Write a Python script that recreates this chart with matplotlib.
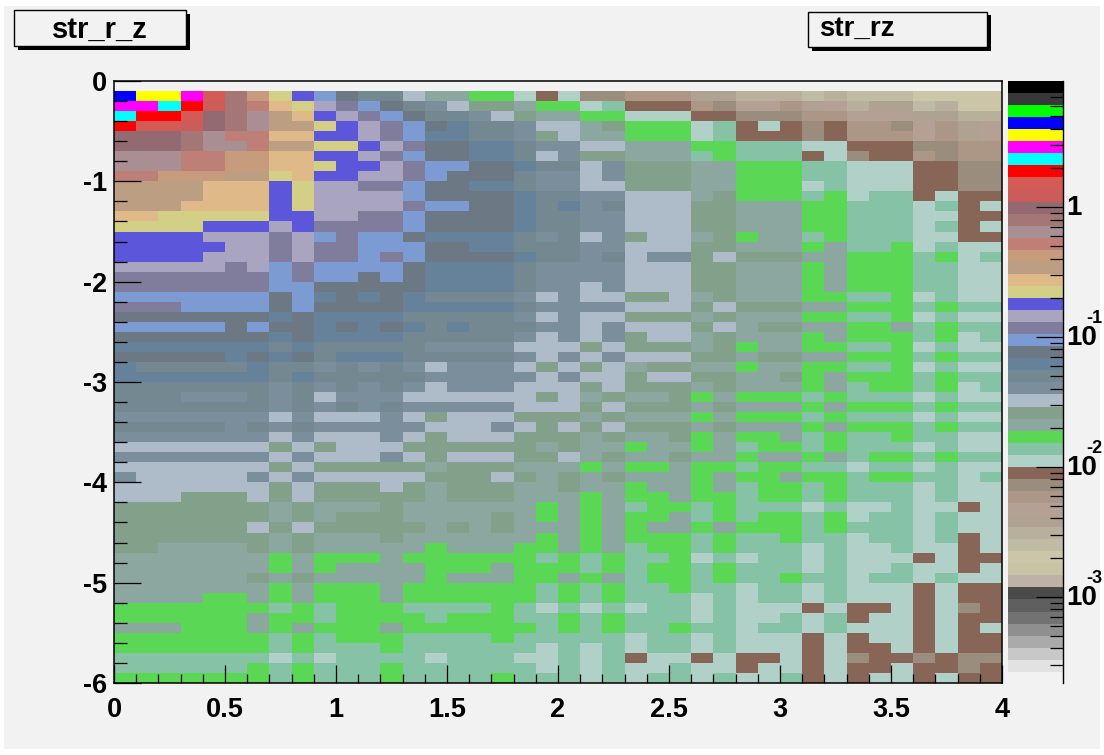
import numpy as np
import matplotlib
matplotlib.use('Agg')
import matplotlib.pyplot as plt
from matplotlib.colors import ListedColormap, BoundaryNorm
from matplotlib.patches import Rectangle
from matplotlib.ticker import FixedLocator, NullFormatter, FixedFormatter

plt.rcParams['font.family'] = ['Liberation Sans', 'DejaVu Sans']
plt.rcParams['font.weight'] = 'bold'
plt.rcParams['axes.unicode_minus'] = False

W, H = 1104, 755

# palette, top of the colour bar first
palette = ['#000000', '#383838', '#00FF00', '#0000FF', '#FFFF00', '#FF00FF', '#00FFFF', '#FF0000',
           '#D45B55', '#CC5C5A', '#946A72', '#A57676', '#A98F93', '#BE7F76', '#C79C7C', '#BC9F82',
           '#DFB987', '#D3CF87', '#5C56DB', '#A9A4C0', '#7F7D9B', '#7C9BD3', '#6C7985', '#66829A',
           '#748891', '#7A8F9B', '#AEBCC9', '#82A08A', '#8CA6A0', '#5AD755', '#86C2A6', '#B0D0C8',
           '#886657', '#9B8D7E', '#AC9686', '#B5A096', '#B0A293', '#B8B09C', '#BFBBA5', '#CCC6A8',
           '#C9C3A5', '#BFB1A5', '#4A4A4A', '#5F5F5F', '#727272', '#8F8F8F', '#AAAAAA', '#C8C8C8',
           '#E2E2E2']

# palette index per cell, rows from z=0 downwards, -1 = empty
levels = [
    [-1] * 40,
    [3,4,4,5,8,11,14,17,18,21,22,24,24,26,28,28,29,29,31,32,31,33,33,34,34,34,36,36,37,37,37,38,37,38,38,38,39,39,39,39],
    [5,5,6,7,9,11,13,16,17,19,20,21,22,24,25,26,27,27,28,29,29,31,30,32,32,32,34,33,35,35,34,36,35,37,36,36,38,37,39,39],
    [6,7,7,8,10,11,12,15,16,18,19,20,21,22,24,24,25,26,27,28,28,29,29,31,31,31,32,32,33,33,33,34,34,35,35,35,36,36,37,37],
    [7,8,8,9,10,11,12,15,15,17,18,19,20,21,22,23,24,24,25,26,26,28,27,29,29,29,31,30,32,31,32,33,32,34,34,33,35,34,36,35],
    [10,10,10,11,12,13,13,16,16,18,18,19,20,21,23,23,24,24,25,27,26,28,28,29,29,29,31,30,32,32,32,33,32,34,34,34,35,34,36,35],
    [10,10,10,11,12,12,13,15,15,17,17,18,19,20,22,22,23,23,24,25,25,26,26,28,28,28,29,29,30,30,30,31,31,32,32,32,33,33,34,34],
    [12,12,12,13,13,14,14,16,16,18,18,19,20,21,22,22,23,23,24,26,25,27,27,28,28,28,30,29,30,30,30,32,31,33,32,32,34,33,34,34],
    [12,12,12,13,13,14,14,16,16,17,18,18,19,20,21,21,22,22,23,24,24,26,25,27,27,27,28,28,29,29,29,30,30,31,31,31,32,32,33,33],
    [13,13,14,14,14,15,15,17,16,18,18,19,19,20,21,22,22,22,24,25,25,26,25,27,27,27,28,28,29,29,29,30,30,31,31,31,32,32,33,33],
    [15,15,15,15,16,16,16,18,17,19,19,20,20,21,22,22,23,23,24,25,25,26,26,27,27,27,28,28,29,29,29,31,30,31,31,31,32,32,33,33],
    [15,15,15,15,16,16,16,18,17,19,19,19,19,21,22,22,22,22,23,24,24,25,25,26,26,26,28,27,29,29,29,30,29,31,30,30,32,31,32,32],
    [15,15,15,16,16,16,16,18,17,19,19,19,19,20,21,21,22,22,23,24,23,25,24,26,26,26,27,27,28,28,28,29,29,30,30,30,31,30,32,31],
    [16,16,17,17,17,17,17,18,18,19,19,20,20,21,22,22,22,22,23,24,24,25,25,26,26,26,27,27,28,28,28,29,29,30,30,30,31,31,32,32],
    [17,17,17,17,18,18,18,19,18,20,20,20,20,21,22,22,22,22,23,24,24,25,25,26,26,26,27,27,28,28,28,29,29,30,30,30,31,30,32,31],
    [18,18,18,18,19,19,19,20,19,21,20,21,21,22,23,23,23,23,24,25,24,26,25,27,26,26,28,27,29,28,28,30,29,30,30,30,31,31,32,32],
    [18,18,18,18,18,19,19,20,19,20,20,21,21,21,22,22,23,23,24,24,24,25,25,26,26,26,27,27,28,28,28,29,28,30,30,29,31,30,31,31],
    [18,18,18,18,19,19,19,20,19,20,20,21,20,21,22,22,22,22,23,24,24,25,24,26,25,25,27,26,27,27,27,28,28,29,29,29,30,29,31,30],
    [19,19,19,19,19,20,19,21,20,21,21,21,21,22,23,23,23,23,24,25,25,25,25,26,26,26,27,27,28,28,28,29,28,29,29,29,30,30,31,31],
    [20,20,20,20,20,20,20,21,20,21,21,22,21,22,23,23,23,23,24,25,25,25,25,26,26,26,27,27,28,28,28,29,28,29,29,29,30,30,31,31],
    [20,20,20,20,20,20,20,21,21,22,22,22,22,22,23,23,23,23,24,25,25,26,25,26,26,26,27,27,28,28,28,29,28,29,29,29,30,30,31,31],
    [21,21,21,21,21,21,21,22,21,23,22,23,22,23,24,24,24,24,25,26,25,26,26,27,27,26,28,27,28,28,28,29,29,30,30,29,31,30,31,31],
    [20,20,20,21,21,21,21,22,21,22,22,22,22,23,23,23,23,23,24,25,25,25,25,26,26,26,27,26,27,27,27,28,28,29,29,29,30,29,30,30],
    [22,22,22,22,22,22,22,23,22,23,23,23,23,24,24,24,24,24,25,26,25,26,26,27,27,27,28,27,28,28,28,29,29,30,30,29,31,30,31,31],
    [21,21,21,21,21,22,21,22,22,23,22,23,22,23,24,23,24,24,24,25,25,26,25,26,26,26,27,26,28,27,27,28,28,29,29,28,30,29,30,30],
    [22,22,22,22,22,22,22,23,22,23,23,23,23,24,24,24,24,24,25,26,25,26,25,27,26,26,28,27,28,28,28,29,28,29,29,29,30,29,31,30],
    [23,23,23,23,23,23,23,24,23,24,24,24,24,24,25,25,25,25,26,26,26,27,26,27,27,27,28,27,29,28,28,29,29,30,30,29,31,30,31,31],
    [22,22,22,22,22,23,22,23,22,24,23,23,23,24,24,24,24,24,25,26,25,26,25,26,26,26,27,27,28,27,27,28,28,29,29,29,30,29,30,30],
    [23,24,24,24,24,24,23,24,24,25,24,25,24,25,26,25,25,25,26,27,26,27,26,28,27,27,28,28,29,28,28,29,29,30,30,29,31,30,31,31],
    [23,23,23,23,23,23,23,24,23,24,24,24,24,24,25,25,25,25,25,26,25,26,26,27,26,26,27,27,28,28,27,29,28,29,29,29,30,29,30,30],
    [24,24,24,24,24,24,24,25,24,25,24,25,24,25,26,25,25,25,26,26,26,27,26,27,27,27,28,27,28,28,28,29,28,30,29,29,30,29,31,30],
    [24,24,24,25,25,25,24,25,24,26,25,25,25,26,26,26,26,26,26,27,26,28,27,28,28,27,29,28,29,29,29,30,29,30,30,30,31,30,31,31],
    [24,24,24,24,24,24,24,25,24,25,24,25,24,25,25,25,25,25,26,26,26,27,26,27,27,27,28,27,28,28,28,29,28,29,29,29,30,29,30,30],
    [25,25,25,25,25,25,25,26,25,26,26,26,25,26,27,26,26,26,27,27,27,28,27,28,28,28,29,28,29,29,29,30,29,30,30,30,31,30,31,31],
    [24,24,24,24,24,25,24,25,24,25,25,25,25,25,26,26,26,25,26,27,26,27,26,27,27,27,28,27,28,28,28,29,28,29,29,29,30,29,30,30],
    [25,25,25,25,25,25,25,26,25,26,26,26,25,26,27,26,26,26,27,27,27,28,27,28,28,27,29,28,29,29,28,30,29,30,30,29,30,30,31,31],
    [26,26,26,26,26,26,26,27,26,27,26,26,26,27,27,27,27,27,27,28,27,28,28,29,28,28,29,28,30,29,29,30,29,30,30,30,31,30,31,31],
    [25,25,25,25,25,25,25,26,25,26,26,26,25,26,27,26,26,26,27,27,26,28,27,28,28,27,28,28,29,28,28,29,28,30,29,29,30,29,30,30],
    [26,26,26,26,26,26,26,27,26,27,27,27,27,27,28,27,27,27,28,28,28,29,28,29,29,28,29,29,30,29,29,30,30,31,30,30,31,30,31,31],
    [25,26,26,26,26,26,25,26,25,26,26,26,26,26,27,27,27,26,27,28,27,28,27,28,28,28,29,28,29,29,28,29,29,30,29,29,30,30,31,30],
    [26,26,26,26,26,26,26,27,26,27,27,27,26,27,28,27,27,27,28,28,27,28,28,29,28,28,29,28,30,29,29,30,29,30,30,30,31,30,31,31],
    [26,26,26,27,27,27,26,27,26,27,27,27,27,27,28,27,27,27,28,28,28,29,28,29,29,28,29,29,30,29,29,30,29,30,30,30,31,30,31,31],
    [27,27,27,27,27,27,27,28,27,28,28,28,27,28,28,28,28,28,28,29,28,29,28,30,29,29,30,29,30,30,30,31,30,31,31,30,31,31,32,31],
    [27,27,27,27,27,27,27,28,27,28,27,27,27,28,28,28,28,27,28,29,28,29,28,29,29,28,30,29,30,29,29,30,29,31,30,30,31,30,31,31],
    [27,27,27,27,27,27,26,27,26,27,27,27,27,27,28,27,28,27,28,28,28,29,28,29,28,28,29,28,29,29,29,30,29,30,30,30,31,30,31,31],
    [27,27,27,27,27,27,27,28,27,28,28,28,27,28,28,28,28,28,28,29,28,29,28,29,29,29,30,29,30,30,29,30,30,31,30,30,31,30,32,31],
    [27,27,28,28,28,28,27,28,27,28,28,28,28,28,29,28,28,28,29,29,28,29,28,30,29,29,30,29,30,30,30,31,30,31,31,30,31,31,32,31],
    [28,28,28,28,28,28,28,29,28,29,29,29,28,29,29,29,29,29,29,30,29,30,29,30,30,29,31,30,31,30,30,31,30,31,31,31,32,31,32,32],
    [28,28,28,28,28,28,28,29,28,29,28,28,28,28,29,29,29,28,29,29,29,30,29,30,29,29,30,29,30,30,30,31,30,31,31,30,31,31,32,31],
    [28,28,28,28,28,28,27,28,27,28,28,28,28,28,29,28,28,28,29,29,28,29,28,30,29,29,30,29,30,30,29,30,30,31,30,30,31,30,31,31],
    [28,28,28,28,28,28,28,29,28,29,29,29,28,29,29,29,29,29,29,30,29,30,29,30,30,29,30,30,31,30,30,31,30,31,31,31,32,31,32,32],
    [28,28,28,28,29,29,28,29,28,29,29,29,28,29,29,29,29,29,29,30,29,30,29,30,30,30,31,30,31,30,30,31,30,31,31,31,32,31,32,32],
    [29,29,29,29,29,29,29,30,29,30,29,29,29,30,30,30,30,29,30,31,30,31,30,31,30,30,31,30,31,31,31,32,31,32,32,31,32,31,33,32],
    [29,29,29,29,29,29,28,29,29,30,29,29,29,29,30,29,29,29,30,30,29,30,29,30,30,30,31,30,31,31,30,31,30,32,31,31,32,31,32,32],
    [28,28,28,29,29,29,28,29,28,29,29,29,28,29,29,29,29,29,29,30,29,30,29,30,30,29,30,30,31,30,30,31,30,31,31,31,32,31,32,31],
    [29,29,29,29,29,29,29,30,29,30,29,29,29,30,30,30,30,29,30,30,30,30,30,31,30,30,31,30,31,31,31,32,31,32,31,31,32,31,32,32],
    [29,29,29,29,29,29,29,30,29,30,30,30,29,30,30,30,30,30,30,31,30,31,30,31,30,30,31,30,31,31,31,32,31,32,32,31,32,31,32,32],
    [30,30,30,30,30,30,30,31,30,31,30,30,30,30,31,30,30,30,31,31,30,31,30,32,31,31,32,31,32,32,31,32,31,33,32,32,33,32,33,33],
    [30,30,30,30,30,30,29,30,29,30,30,30,29,30,30,30,30,30,30,31,30,31,30,31,31,30,31,31,32,31,31,32,31,32,32,31,32,32,33,32],
    [29,29,29,29,29,29,29,30,29,30,30,30,29,30,30,30,30,29,30,30,30,31,30,31,30,30,31,30,31,31,30,32,31,32,31,31,32,31,32,32],
]

x_ticks = [0, 0.5, 1, 1.5, 2, 2.5, 3, 3.5, 4]
x_tick_labels = ['0', '0.5', '1', '1.5', '2', '2.5', '3', '3.5', '4']
y_ticks = [0, -1, -2, -3, -4, -5, -6]
y_tick_labels = ['0', '-1', '-2', '-3', '-4', '-5', '-6']
bar_decades = [1, 0.1, 0.01, 0.001]
bar_exponents = ['', '-1', '-2', '-3']


def axes_box(left, top, right, bottom):
    return [left / W, 1 - bottom / H, (right - left) / W, (bottom - top) / H]


def fig_rect(left, top, right, bottom, **kw):
    fig.add_artist(Rectangle((left / W, 1 - bottom / H), (right - left) / W, (bottom - top) / H,
                             transform=fig.transFigure, **kw))


fig = plt.figure(figsize=(W / 100, H / 100), dpi=100, facecolor='white')
fig_rect(4, 6, 1100, 749, facecolor='#F2F2F2', edgecolor='none', zorder=-5)

# title boxes with their drop shadow
for left, top, right, bottom in [(14, 10, 186, 46), (808, 12, 987, 47)]:
    fig_rect(left + 3.5, top + 3.5, right + 3.5, bottom + 3.5, facecolor='black', edgecolor='none', zorder=1)
    fig_rect(left, top, right, bottom, facecolor='#F2F2F2', edgecolor='black', linewidth=1.0, zorder=2)
fig.text(99.5 / W, 1 - 30 / H, 'str_r_z', fontsize=21, ha='center', va='center', zorder=3)
fig.text(819 / W, 1 - 29 / H, 'str_rz', fontsize=20, ha='left', va='center', zorder=3)

cmap = ListedColormap(palette)
norm = BoundaryNorm(np.arange(-0.5, len(palette)), len(palette))

# main 2D histogram
ax = fig.add_axes(axes_box(114, 81, 1002, 683))
ax.set_facecolor('#F2F2F2')
x_edges = np.linspace(0, 4, 41)
z_edges = np.linspace(0, -6, 61)
grid = np.ma.masked_less(np.array(levels), 0)
ax.pcolormesh(x_edges, z_edges, grid, cmap=cmap, norm=norm, edgecolors='none', antialiased=False)
ax.set_xlim(0, 4)
ax.set_ylim(-6, 0)
ax.xaxis.set_major_locator(FixedLocator(x_ticks))
ax.xaxis.set_major_formatter(FixedFormatter(x_tick_labels))
ax.xaxis.set_minor_locator(FixedLocator(x_edges))
ax.yaxis.set_major_locator(FixedLocator(y_ticks))
ax.yaxis.set_major_formatter(FixedFormatter(y_tick_labels))
ax.yaxis.set_minor_locator(FixedLocator(np.linspace(0, -6, 31)))
ax.tick_params(axis='x', which='major', direction='in', length=13, width=0.9, labelsize=19.5, pad=10)
ax.tick_params(axis='x', which='minor', direction='in', length=6.5, width=0.9)
ax.tick_params(axis='y', which='major', direction='in', length=19.5, width=0.9, labelsize=19.5, pad=5)
ax.tick_params(axis='y', which='minor', direction='in', length=9.5, width=0.9)
for s in ax.spines.values():
    s.set_linewidth(1.1)

# colour bar, log scale
cax = fig.add_axes(axes_box(1008, 81, 1063, 683))
cax.set_facecolor('none')
bar_edges = np.logspace(0.969, -3.578, len(palette) + 1)
cax.pcolormesh([0, 1], bar_edges, np.arange(len(palette)).reshape(-1, 1), cmap=cmap, norm=norm,
               edgecolors='none', antialiased=False)
cax.set_yscale('log')
cax.set_xlim(0, 1)
cax.set_ylim(10 ** -3.664, 10 ** 0.969)
cax.set_xticks([])
for name, s in cax.spines.items():
    s.set_visible(name == 'right')
    s.set_linewidth(1.0)
cax.yaxis.tick_right()
cax.yaxis.set_major_locator(FixedLocator(bar_decades))
cax.yaxis.set_minor_locator(FixedLocator([m * d for d in [1, 0.1, 0.01, 0.001, 0.0001] for m in range(2, 10)]))
cax.yaxis.set_major_formatter(NullFormatter())
cax.yaxis.set_minor_formatter(NullFormatter())
cax.tick_params(axis='y', which='major', direction='in', length=19.5, width=0.9)
cax.tick_params(axis='y', which='minor', direction='in', length=9.5, width=0.9)
for value, exponent in zip(bar_decades, bar_exponents):
    base = '10' if exponent else '1'
    cax.annotate(base, xy=(1, value), xycoords=('axes fraction', 'data'), xytext=(2, -1),
                 textcoords='offset points', fontsize=20, ha='left', va='center', annotation_clip=False)
    if exponent:
        cax.annotate(exponent, xy=(1, value), xycoords=('axes fraction', 'data'), xytext=(16.5, 13),
                     textcoords='offset points', fontsize=13, ha='left', va='center', annotation_clip=False)

fig.savefig('out.png', dpi=100)
